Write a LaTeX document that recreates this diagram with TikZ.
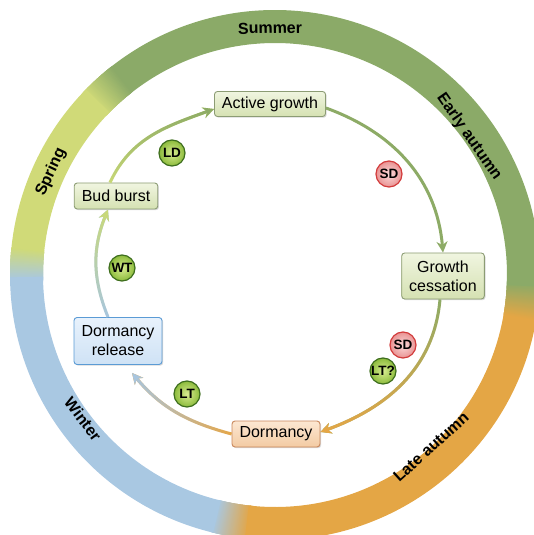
\documentclass[tikz,border=0pt]{standalone}
\usepackage{fontspec}
\setmainfont{Liberation Sans}
\usetikzlibrary{arrows.meta,shadows,fadings}
\definecolor{cSum}{HTML}{8BAA68}
\definecolor{cSpr}{HTML}{D0DA78}
\definecolor{cWin}{HTML}{A9C8E2}
\definecolor{cAut}{HTML}{E4A645}
\definecolor{aSpr}{HTML}{C9D977}
\definecolor{aSum}{HTML}{8DAB66}
\definecolor{aWin}{HTML}{A8C6E0}
\definecolor{aAut}{HTML}{E6A646}
\definecolor{boxG}{HTML}{8C9C74}
\definecolor{boxGt}{HTML}{F0F5E0}
\definecolor{boxGb}{HTML}{D5E1B2}
\definecolor{boxB}{HTML}{5B9BD5}
\definecolor{boxBt}{HTML}{E8F2FC}
\definecolor{boxBb}{HTML}{CFE2F5}
\definecolor{boxO}{HTML}{C8865A}
\definecolor{boxOt}{HTML}{FCE7D2}
\definecolor{boxOb}{HTML}{F3CBA3}
\definecolor{bdgG}{HTML}{3E6E1E}
\definecolor{bdgGi}{HTML}{D8EC90}
\definecolor{bdgGo}{HTML}{8CBB3C}
\definecolor{bdgR}{HTML}{D23C3C}
\definecolor{bdgRi}{HTML}{FBDADA}
\definecolor{bdgRo}{HTML}{E99393}
\tikzfading[name=fadeUp, top color=transparent!0, bottom color=transparent!100]
\tikzfading[name=fadeDownQ, top color=transparent!100, middle color=transparent!0, bottom color=transparent!0]
\tikzfading[name=fadeLeftQ, left color=transparent!0, middle color=transparent!0, right color=transparent!100]
\newcommand\rin{232}
\newcommand\rout{265}
\newcommand\ringarc[3]{%
  \fill[#3] (#1:\rin) arc[start angle=#1,end angle=#2,radius=\rin] -- (#2:\rout) arc[start angle=#2,end angle=#1,radius=\rout] -- cycle;}
% #1 start angle, #2 span, #3 from colour, #4 to colour
\newcommand\ringblend[4]{%
  \foreach \k in {0,...,40}{%
    \pgfmathsetmacro\sa{#1+#2*\k/40}%
    \pgfmathsetmacro\eb{\sa+#2/40+0.4}%
    \pgfmathtruncatemacro\p{\k*100/40}%
    \ringarc{\sa}{\eb}{#4!\p!#3}}}
\begin{document}
\begin{tikzpicture}[x=1pt,y=1pt,
  box/.style={draw, rounded corners=3pt, line width=0.9pt, inner xsep=7.5pt, inner ysep=3pt, align=center,
    font=\fontsize{16}{19}\selectfont,
    drop shadow={shadow xshift=1.2pt,shadow yshift=-1.2pt,opacity=0.3}},
  gbox/.style={box, draw=boxG, top color=boxGt, bottom color=boxGb},
  bbox/.style={box, draw=boxB, top color=boxBt, bottom color=boxBb},
  obox/.style={box, draw=boxO, top color=boxOt, bottom color=boxOb},
  badge/.style={circle, minimum size=26pt, inner sep=0pt, line width=1.2pt,
    font=\bfseries\fontsize{13.5}{13.5}\selectfont},
  gbadge/.style={badge, draw=bdgG, inner color=bdgGi, outer color=bdgGo},
  rbadge/.style={badge, draw=bdgR, inner color=bdgRi, outer color=bdgRo},
  arr/.style={line width=3pt, -{Stealth[length=11pt,width=11pt]}},
  season/.style={font=\bfseries\fontsize{16}{16}\selectfont}
]
\useasboundingbox (-275,275) rectangle (258,-260);
% ring
\ringblend{-104}{8}{cWin}{cAut}
\ringarc{-96.5}{-9.5}{cAut}
\ringblend{-10}{8}{cAut}{cSum}
\ringarc{-2.5}{128.5}{cSum}
\ringblend{128}{8}{cSum}{cSpr}
\ringarc{135.5}{174.5}{cSpr}
\ringblend{174}{7}{cSpr}{cWin}
\ringarc{180.5}{256.5}{cWin}
% season labels
\node[season, rotate=1] (sSummer) at (-5,247) {Summer};
\node[season, rotate=-55] (sEarly) at (194,138) {Early autumn};
\node[season, rotate=65] (sSpring) at (-224,103) {Spring};
\node[season, rotate=-53] (sWinter) at (-192,-144) {Winter};
\node[season, rotate=42] (sLate) at (156,-172) {Late autumn};
% stage boxes
\node[gbox, minimum height=25pt] (active) at (-5,171) {Active growth};
\node[gbox, minimum height=26pt] (bud) at (-159,79) {Bud burst};
\node[gbox, minimum height=46pt] (cess) at (168,-1) {Growth\\cessation};
\node[bbox, minimum height=47pt] (rel) at (-157,-66) {Dormancy\\release};
\node[obox, minimum height=26pt] (dorm) at (1,-159) {Dormancy};
% arrows
\draw[arr, aSpr] ([xshift=-6pt]bud.north) to[out=65,in=200] ([yshift=-5pt]active.west);
\draw[arr, aSum, path fading=fadeUp] ([xshift=-6pt]bud.north) to[out=65,in=200] ([yshift=-5pt]active.west);
\draw[arr, aSum] ([yshift=-4pt]active.east) to[out=-20,in=95] (cess.north);
\draw[arr, aSum] ([xshift=-3pt]cess.south) to[out=-95,in=20] ([yshift=2pt]dorm.east);
\draw[arr, aAut, path fading=fadeDownQ] ([xshift=-3pt]cess.south) to[out=-95,in=20] ([yshift=2pt]dorm.east);
\draw[arr, aAut] (dorm.west) to[out=165,in=-50] ([xshift=14pt,yshift=-8pt]rel.south);
\draw[arr, aWin, path fading=fadeLeftQ] (dorm.west) to[out=165,in=-50] ([xshift=14pt,yshift=-8pt]rel.south);
\draw[arr, aWin] ([xshift=-10pt]rel.north) to[out=112,in=-112] ([xshift=-8pt]bud.south);
\draw[arr, aSpr, path fading=fadeUp] ([xshift=-10pt]rel.north) to[out=112,in=-112] ([xshift=-8pt]bud.south);
% badges
\node[gbadge] (bLD) at (-103,122) {LD};
\node[rbadge] (bSD1) at (114,101) {SD};
\node[rbadge] (bSD2) at (128,-70) {SD};
\node[gbadge] (bLTq) at (108,-96) {LT?};
\node[gbadge] (bLT) at (-88,-119) {LT};
\node[gbadge] (bWT) at (-153,7) {WT};
\end{tikzpicture}
\end{document}
